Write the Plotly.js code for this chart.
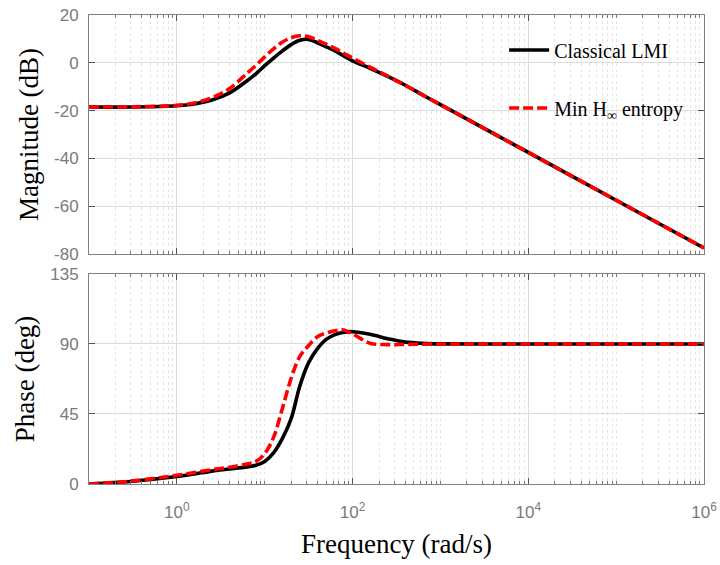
<!DOCTYPE html>
<html>
<head>
<meta charset="utf-8">
<script src="https://cdn.plot.ly/plotly-3.0.1.min.js"></script>
<style>html,body{margin:0;padding:0;background:#fff;}#chart{width:720px;height:565px;}</style>
</head>
<body>
<div id="chart"></div>
<script>
// Frequencies (rad/s) at which values were read
const freq = [0.1, 0.316, 1, 1.58, 2.51, 3.98, 6.31, 7.94, 10, 12.6, 15.8, 20, 25.1, 31.6, 39.8, 50.1, 63.1, 79.4, 100, 158, 251, 398, 631, 1000, 1e4, 1e5, 1e6];

// Magnitude (dB)
const magClassical = [-18.5, -18.5, -18.0, -17.2, -15.6, -12.6, -7.5, -4.6, -1.2, 2.0, 4.9, 7.6, 9.4, 9.8, 8.4, 6.7, 5.0, 2.9, 0.8, -2.3, -5.7, -9.4, -13.5, -17.5, -37.5, -57.5, -77.5];
const magEntropy   = [-18.5, -18.4, -17.8, -16.8, -14.6, -10.8, -4.3, -1.1, 2.5, 5.8, 8.6, 10.5, 11.3, 10.9, 9.4, 7.8, 6.0, 4.0, 2.0, -1.8, -5.6, -9.4, -13.5, -17.5, -37.5, -57.5, -77.5];

// Phase (deg)
const phClassical = [0, 1.8, 4.8, 6.5, 8.3, 9.6, 11.0, 12.0, 14.5, 20, 29, 42, 63, 78, 87, 93, 96, 97.5, 97.9, 96.2, 93.4, 91.2, 90.4, 90.1, 90, 90, 90];
const phEntropy   = [0, 2.0, 5.6, 7.4, 9.2, 10.8, 12.9, 14.5, 19.5, 30, 48, 68, 82, 89, 94.7, 97, 98.5, 99, 96.5, 90.5, 89.6, 89.7, 89.9, 90, 90, 90, 90];

const seriesNames = ['Classical LMI', 'Min H<sub>\u221e</sub> entropy'];

// Tick labels
const xTickVals = [1, 100, 1e4, 1e6];
const xTickText = ['10<sup>0</sup>', '10<sup>2</sup>', '10<sup>4</sup>', '10<sup>6</sup>'];
const xMinorVals = (function(){ const v=[]; for (let e=-1; e<6; e++){ for (let d=2; d<=10; d++){ if (d===10 && (e+1)%2===0) continue; v.push(d*Math.pow(10,e)); } } return v; })();
const magTickVals = [-80, -60, -40, -20, 0, 20];
const magTickText = ['-80', '-60', '-40', '-20', '0', '20'];
const phTickVals = [0, 45, 90, 135];
const phTickText = ['0', '45', '90', '135'];

const black = '#000000';
const red = '#ff0000';
const dashPat = '10px,4px';

function lineStyle(color, dashed) {
  const s = {color: color, width: 3.6, shape: 'spline', smoothing: 1};
  if (dashed) s.dash = dashPat;
  return s;
}

const traces = [
  {x: freq, y: magClassical, xaxis: 'x2', yaxis: 'y2', type: 'scatter', mode: 'lines', name: seriesNames[0], legendgroup: 'a', line: lineStyle(black, false)},
  {x: freq, y: magEntropy, xaxis: 'x2', yaxis: 'y2', type: 'scatter', mode: 'lines', name: seriesNames[1], legendgroup: 'b', line: lineStyle(red, true)},
  {x: freq, y: phClassical, xaxis: 'x', yaxis: 'y', type: 'scatter', mode: 'lines', name: seriesNames[0], showlegend: false, line: lineStyle(black, false)},
  {x: freq, y: phEntropy, xaxis: 'x', yaxis: 'y', type: 'scatter', mode: 'lines', name: seriesNames[1], showlegend: false, line: lineStyle(red, true)}
];

const SERIF = '"Liberation Serif", "Times New Roman", Times, serif';
function tickFont() { return {family: '"Liberation Sans", Arial, sans-serif', size: 17, color: '#7a7a7a'}; }
function titleFont() { return {family: SERIF, size: 27, color: '#000000'}; }

function xAxis(showLabels, anchor) {
  return {
    type: 'log', range: [-1, 6], anchor: anchor,
    tickmode: 'array', tickvals: xTickVals, ticktext: xTickText,
    showticklabels: showLabels, tickfont: tickFont(), ticklabelstandoff: 13,
    ticks: 'inside', ticklen: 6, tickcolor: '#555', tickwidth: 1,
    showline: true, linecolor: '#808080', linewidth: 1, mirror: 'ticks',
    showgrid: true, gridcolor: '#dcdcdc', gridwidth: 1, zeroline: false,
    minor: {tickmode: 'array', tickvals: xMinorVals, showgrid: true, griddash: 'dot', gridcolor: '#e4e4e4', gridwidth: 1,
            ticks: 'inside', ticklen: 3, tickcolor: '#777'}
  };
}

function yAxis(domain, anchor, range, vals, text, title) {
  return {domain: domain, anchor: anchor, range: range, tickmode: 'array', tickvals: vals, ticktext: text,
          tickfont: tickFont(), ticklabelstandoff: 6, ticks: 'inside', ticklen: 6, tickcolor: '#555',
          showline: true, linecolor: '#808080', linewidth: 1, mirror: 'ticks', showgrid: true, gridcolor: '#dcdcdc', zeroline: false,
          title: {text: title, font: titleFont(), standoff: 7}};
}

const xBottom = xAxis(true, 'y');
xBottom.title = {text: 'Frequency (rad/s)', font: titleFont(), standoff: 12};
const xTop = xAxis(false, 'y2');
xTop.matches = 'x';

const layout = {
  width: 720, height: 565,
  margin: {l: 89, r: 16, t: 15, b: 81},
  paper_bgcolor: '#fff', plot_bgcolor: '#fff',
  font: {family: SERIF},
  showlegend: true,
  legend: {x: 0.675, y: 0.967, xanchor: 'left', yanchor: 'top', bgcolor: 'rgba(0,0,0,0)', borderwidth: 0,
           traceorder: 'grouped', tracegroupgap: 29, itemwidth: 40,
           font: {family: SERIF, size: 20, color: '#000'}},
  xaxis: xBottom,
  xaxis2: xTop,
  yaxis: yAxis([0, 0.4478], 'x', [0, 135], phTickVals, phTickText, 'Phase (deg)'),
  yaxis2: yAxis([0.4904, 1], 'x2', [-80, 20], magTickVals, magTickText, 'Magnitude (dB)')
};

Plotly.newPlot('chart', traces, layout, {displayModeBar: false, staticPlot: true});
</script>
</body>
</html>
